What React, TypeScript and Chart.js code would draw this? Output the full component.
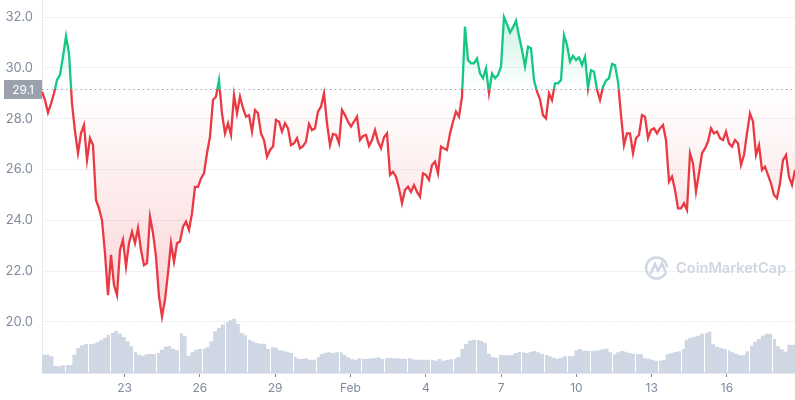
import React, { useEffect, useRef } from "react";
import { Chart, registerables } from "chart.js";

Chart.register(...registerables);

const START_DAY = 19.71;
const END_DAY = 49.71;
const BASE_PRICE = 29.15;
const BASE_LABEL = "29.1";
const VOLUME_GROUP = 6;

const yTicks = [20, 22, 24, 26, 28, 30, 32];
const tickDays = [23, 26, 29, 32, 35, 38, 41, 44, 47];
const tickLabels = ["23", "26", "29", "Feb", "4", "7", "10", "13", "16"];

const priceJan = [
  29.06, 28.73, 28.24, 28.58, 29.0, 29.52, 29.72, 30.44, 31.25, 30.57, 28.6, 27.5, 26.64, 27.42, 27.75, 26.37,
  27.23, 26.96, 24.8, 24.47, 24.0, 22.7, 21.06, 22.64, 21.45, 21.06, 22.83, 23.23, 22.18, 23.1, 23.55, 23.1,
  23.7, 22.83, 22.24, 22.31, 24.14, 23.5, 22.57, 21.0, 20.21, 20.87, 21.92, 23.1, 22.37, 23.1, 23.17, 23.75,
  23.95, 23.62, 24.28, 25.32, 25.32, 25.65, 25.85, 26.64, 27.29, 28.73, 28.87, 29.52, 28.2, 27.42, 27.82, 27.36,
  28.93, 28.21, 28.87, 28.41, 28.08, 28.14, 27.49, 28.34, 28.21, 27.42, 27.16, 26.5, 26.77, 26.9, 27.95, 27.88,
  27.49, 27.82, 27.62, 26.96, 27.03, 27.23, 26.83, 26.92, 27.1, 27.79, 27.55, 27.62, 28.28, 28.47, 29.0, 27.82,
  26.96, 27.4, 27.36, 27.03, 28.34, 28.14, 27.88, 27.69, 27.88, 28.08, 27.16, 27.32, 27.36, 26.92, 27.16, 27.55,
  27.1, 26.83, 27.27, 27.42,
];
const priceFeb = [
  25.78, 25.91, 25.72, 25.26, 24.67, 25.19, 25.32, 25.12, 25.39, 25.12, 24.93, 25.85, 25.78, 25.59, 26.18, 26.31,
  25.85, 26.9, 26.83, 26.77, 27.42, 27.88, 28.28, 28.08, 28.87, 31.62, 30.31, 30.18, 30.18, 30.37, 29.78, 29.59,
  29.98, 29.0, 29.78, 29.59, 29.72, 30.05, 32.0, 31.72, 31.39, 31.59, 31.85, 31.25, 30.7, 30.05, 30.83, 30.77,
  29.52, 29.06, 28.76, 28.14, 28.01, 29.0, 28.73, 29.39, 29.39, 29.52, 31.29, 30.9, 30.24, 30.47, 30.31, 30.41,
  30.11, 30.44, 29.19, 29.91, 29.85, 29.15, 28.73, 29.26, 29.5, 29.59, 30.15, 30.11, 29.46, 28.14, 26.96, 27.42,
  27.42, 26.64, 27.23, 27.36, 28.14, 28.08, 27.23, 27.55, 27.62, 27.42, 27.62, 27.75, 27.16, 25.52, 25.72, 25.19,
  24.47, 24.47, 24.67, 24.41, 26.64, 26.24, 25.13, 25.85, 26.64, 26.83, 27.1, 27.62, 27.42, 27.49, 27.23, 27.16,
  27.49, 27.03, 26.9, 27.16, 27.03, 26.18, 26.57, 27.42, 28.21, 27.88, 26.57, 26.96, 25.98, 26.11, 25.78, 25.46,
  25.0, 24.87, 25.46, 26.37, 26.57, 25.72, 25.39, 25.98,
];
const priceValues = [...priceJan, ...priceFeb];

const volumeValues = [
  55, 55, 55, 50, 22, 20, 23, 23, 24, 55, 75, 83, 87, 87, 88, 92, 98, 105, 115, 120, 126, 118, 108, 95,
  80, 63, 55, 52, 56, 57, 56, 60, 70, 79, 81, 73, 68, 120, 112, 52, 62, 70, 72, 73, 77, 95, 125, 135,
  145, 152, 158, 163, 148, 120, 113, 100, 95, 90, 88, 88, 72, 77, 76, 68, 67, 64, 60, 48, 43, 42, 44, 40,
  40, 47, 57, 61, 62, 60, 62, 62, 55, 47, 41, 40, 44, 43, 42, 44, 45, 47, 42, 44, 45, 44, 44, 43,
  43, 45, 41, 40, 40, 40, 40, 39, 37, 42, 37, 39, 41, 43, 48, 72, 87, 97, 100, 99, 96, 90, 58, 48,
  46, 54, 54, 53, 54, 60, 63, 62, 60, 63, 66, 62, 57, 54, 50, 46, 43, 46, 50, 51, 50, 68, 72, 67,
  67, 67, 67, 68, 71, 73, 62, 56, 62, 66, 64, 60, 58, 57, 56, 44, 43, 40, 37, 37, 39, 56, 60, 63,
  65, 72, 100, 106, 109, 112, 118, 119, 124, 86, 79, 75, 72, 68, 62, 58, 54, 53, 65, 82, 94, 102, 112, 118,
  118, 102, 80, 71, 64, 85,
];

const TICK_COLOR = "#808A9D";
const GRID_COLOR = "#EFF2F5";
const GREEN = "#16C784";
const RED = "#EA3943";
const FONT = "Inter, 'Noto Sans', sans-serif";

// Runs of the volume area, separated by a thin white rule drawn through the scale.
const volumeRuleDays = () => {
  const width = (END_DAY - START_DAY) / volumeValues.length;
  const days: number[] = [];
  for (let i = VOLUME_GROUP; i < volumeValues.length; i += VOLUME_GROUP) days.push(START_DAY + i * width);
  return days;
};

const volumePoints = () => {
  const width = (END_DAY - START_DAY) / volumeValues.length;
  const pts = volumeValues.map((v, i) => ({ x: START_DAY + i * width, y: v }));
  pts.push({ x: END_DAY, y: volumeValues[volumeValues.length - 1] });
  return pts;
};

const lineColor = (ctx: any) => {
  const { chart } = ctx;
  const { chartArea, scales, ctx: c } = chart;
  if (!chartArea) return RED;
  const stop = (scales.y.getPixelForValue(BASE_PRICE) - chartArea.top) / (chartArea.bottom - chartArea.top);
  const g = c.createLinearGradient(0, chartArea.top, 0, chartArea.bottom);
  g.addColorStop(0, GREEN);
  g.addColorStop(stop, GREEN);
  g.addColorStop(stop, RED);
  g.addColorStop(1, RED);
  return g;
};

const areaFill = (chart: any, from: number, to: number, color: string) => {
  const { scales, ctx: c } = chart;
  const g = c.createLinearGradient(0, scales.y.getPixelForValue(from), 0, scales.y.getPixelForValue(to));
  g.addColorStop(0, `rgba(${color},0)`);
  g.addColorStop(1, `rgba(${color},0.22)`);
  return g;
};

const overlay = {
  id: "overlay",
  afterDatasetsDraw(chart: any) {
    const { ctx, chartArea, scales } = chart;
    const y = Math.round(scales.y.getPixelForValue(BASE_PRICE)) + 0.5;
    ctx.save();

    // white rules through the volume area
    ctx.fillStyle = "#FFFFFF";
    volumeRuleDays().forEach((d) => {
      const x = Math.round(scales.x.getPixelForValue(d));
      ctx.fillRect(x, scales.y2.getPixelForValue(200), 1, chartArea.bottom - scales.y2.getPixelForValue(200) - 1);
    });

    ctx.strokeStyle = "#9AA0AB";
    ctx.lineWidth = 1;
    ctx.setLineDash([1.4, 3.4]);
    ctx.beginPath();
    ctx.moveTo(chartArea.left, y);
    ctx.lineTo(chartArea.right, y);
    ctx.stroke();
    ctx.setLineDash([]);
    ctx.fillStyle = "#9AA1AD";
    ctx.fillRect(chartArea.left - 38, y - 9.5, 38, 19);
    ctx.fillStyle = "#FFFFFF";
    ctx.font = `12px ${FONT}`;
    ctx.textAlign = "right";
    ctx.textBaseline = "middle";
    ctx.fillText(BASE_LABEL, chartArea.left - 8, y + 0.5);

    // watermark
    ctx.strokeStyle = "#D0D6E3";
    ctx.lineWidth = 2.4;
    ctx.lineCap = "round";
    ctx.beginPath();
    ctx.arc(656.5, 268, 10.5, 0.15 * Math.PI, 1.95 * Math.PI);
    ctx.stroke();
    ctx.beginPath();
    ctx.moveTo(651, 273);
    ctx.lineTo(655, 264);
    ctx.lineTo(658, 271);
    ctx.lineTo(662, 263);
    ctx.lineTo(665, 271);
    ctx.stroke();
    ctx.fillStyle = "#D0D6E3";
    ctx.font = `600 14.6px ${FONT}`;
    ctx.textAlign = "left";
    ctx.fillText("CoinMarketCap", 676, 269);
    ctx.restore();
  },
};

export default function App() {
  const ref = useRef<HTMLCanvasElement>(null);
  useEffect(() => {
    document.body.style.margin = "0";
    const step = (END_DAY - START_DAY) / (priceValues.length - 1);
    const chart = new Chart(ref.current as HTMLCanvasElement, {
      type: "line",
      plugins: [overlay],
      data: {
        datasets: [
          {
            data: priceValues.map((v, i) => ({ x: START_DAY + i * step, y: v })) as any,
            xAxisID: "x",
            yAxisID: "y",
            borderColor: lineColor as any,
            borderWidth: 2.3,
            pointRadius: 0,
            tension: 0,
            fill: {
              target: { value: BASE_PRICE },
              above: (ctx: any) => areaFill(ctx.chart, BASE_PRICE, 32, "22,199,132"),
              below: (ctx: any) => areaFill(ctx.chart, BASE_PRICE, 20.2, "234,57,67"),
            },
            order: 1,
          } as any,
          {
            data: volumePoints() as any,
            xAxisID: "x",
            yAxisID: "y2",
            stepped: "after",
            backgroundColor: "#CFD6E4",
            borderWidth: 0,
            pointRadius: 0,
            fill: "origin",
            order: 2,
          } as any,
        ],
      },
      options: {
        animation: false,
        responsive: false,
        maintainAspectRatio: false,
        parsing: false,
        normalized: true,
        layout: { padding: 0, autoPadding: false },
        plugins: { legend: { display: false }, tooltip: { enabled: false } },
        scales: {
          x: {
            type: "linear",
            min: START_DAY,
            max: END_DAY,
            afterBuildTicks: (s: any) => {
              s.ticks = tickDays.map((value) => ({ value }));
            },
            afterFit: (s: any) => {
              s.height = 27;
              s.paddingLeft = 0;
              s.paddingRight = 0;
            },
            grid: { drawOnChartArea: false, drawTicks: true, tickLength: 4, tickColor: TICK_COLOR },
            border: { display: true, color: "#E6EAF0" },
            ticks: {
              autoSkip: false,
              maxRotation: 0,
              padding: 4,
              color: TICK_COLOR,
              font: { family: FONT, size: 12 },
              callback: (v: any) => tickLabels[tickDays.indexOf(v)],
            },
          },
          y: {
            position: "left",
            min: 17.993,
            max: 32.669,
            afterBuildTicks: (s: any) => {
              s.ticks = yTicks.map((value) => ({ value }));
            },
            afterFit: (s: any) => {
              s.width = 42;
              s.paddingTop = 0;
              s.paddingBottom = 0;
            },
            grid: { color: GRID_COLOR, drawTicks: false },
            border: { display: true, color: "#E6EAF0" },
            ticks: {
              padding: 9,
              color: TICK_COLOR,
              font: { family: FONT, size: 13 },
              callback: (v: any) => Number(v).toFixed(1),
            },
          },
          y2: { display: false, min: 0, max: 1119, grid: { display: false } },
        },
      } as any,
    });
    return () => chart.destroy();
  }, []);
  return <canvas ref={ref} width={795} height={400} style={{ display: "block", width: 795, height: 400 }} />;
}
